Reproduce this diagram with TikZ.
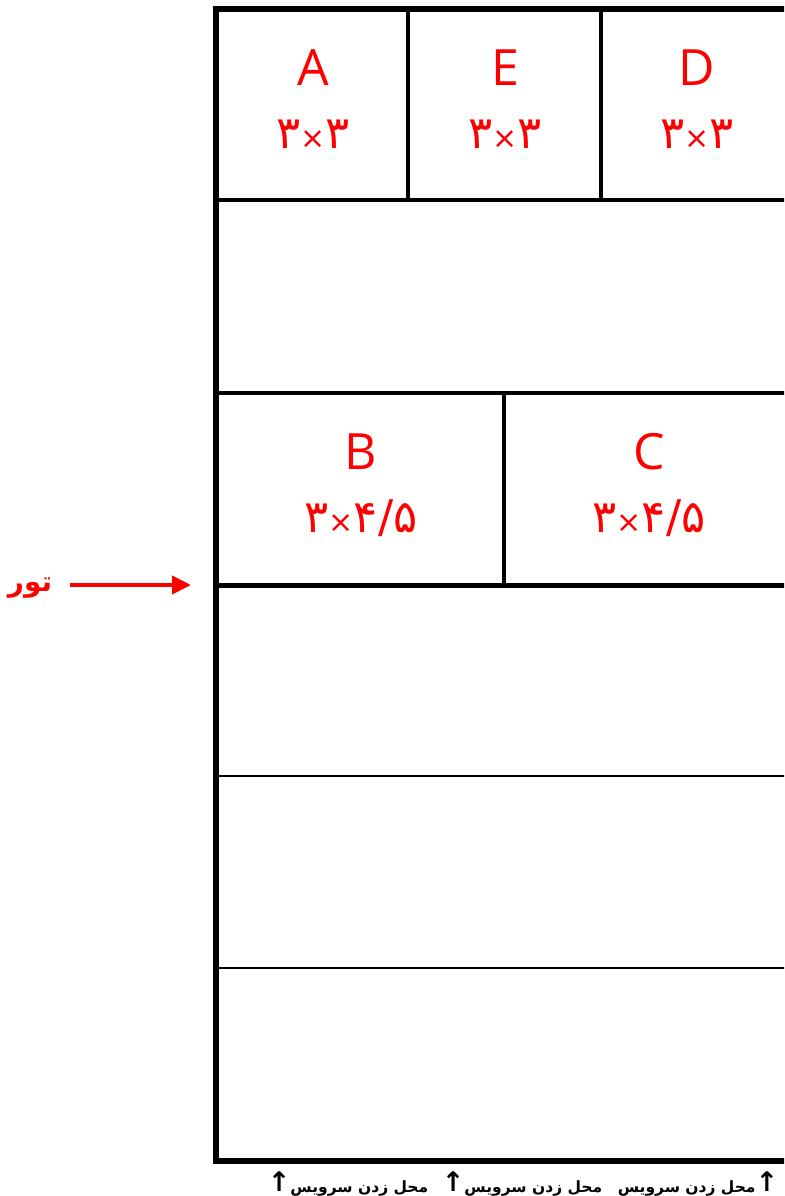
\documentclass[tikz,border=0pt]{standalone}
\usepackage{fontspec}
\setmainfont{Open Sans}
\newfontfamily\arabicfont[Script=Arabic]{DejaVu Sans}
\newfontfamily\digitfont{DejaVu Sans}
\TeXXeTstate=1
\usetikzlibrary{arrows.meta}
\newcommand{\tms}{{\fontsize{30}{30}\selectfont ×}}
\newcommand{\uparr}{\raisebox{1pt}{\digitfont\fontsize{27}{27}\selectfont ↑}}
\begin{document}
\begin{tikzpicture}[x=1pt,y=-1pt,
  thickwall/.style={line width=5.5pt,line join=miter},
  divider/.style={line width=4pt},
  midwall/.style={line width=5pt},
  thinline/.style={line width=2.5pt},
  letter/.style={text=red,font=\fontsize{50}{50}\selectfont,inner sep=0pt},
  dims/.style={text=red,font=\digitfont\fontsize{45}{45}\selectfont,inner sep=0pt},
  note/.style={font=\arabicfont\bfseries\fontsize{15.5}{15.5}\selectfont,inner sep=0pt},
  redarrow/.style={draw=red,line width=4pt,-{Triangle[length=19pt,width=18pt]}}
]
\useasboundingbox (0,0) rectangle (784,1196);
\clip (0,0) rectangle (784,1196);
% outer frame
\draw[thickwall] (792,9) -- (216,9) -- (216,1161) -- (792,1161);
% horizontal lines
\draw[divider] (216,200) -- (792,200);
\draw[divider] (216,393) -- (792,393);
\draw[midwall] (216,585) -- (792,585);
\draw[thinline] (216,776) -- (792,776);
\draw[thinline] (216,968) -- (792,968);
% vertical dividers
\draw[divider] (408,9) -- (408,200);
\draw[divider] (601,9) -- (601,200);
\draw[divider] (504,393) -- (504,585);
% labels
\node[letter] (A) at (313,68) {A};
\node[letter] (E) at (505,68) {E};
\node[letter] (D) at (697,68) {D};
\node[dims] (Ad) at (313,134) {۳\tms۳};
\node[dims] (Ed) at (505,134) {۳\tms۳};
\node[dims] (Dd) at (697,134) {۳\tms۳};
\node[letter] (B) at (361,452) {B};
\node[letter] (C) at (649,452) {C};
\node[dims] (Bd) at (361,518) {۳\tms۴/۵};
\node[dims] (Cd) at (649,518) {۳\tms۴/۵};
% net label
\node[text=red,font=\arabicfont\bfseries\fontsize{28}{28}\selectfont,inner sep=0pt] (tor) at (30,588) {\beginR تور\endR};
\coordinate (netstart) at (70,585);
\coordinate (wall) at (191,585);
\draw[redarrow] (netstart) -- (wall);
% service notes
\node[note] (s1) at (348,1184) {\uparr\beginR محل زدن سرویس\endR};
\node[note] (s2) at (522,1184) {\uparr\beginR محل  زدن سرویس\endR};
\node[note] (s3) at (698,1184) {\beginR محل زدن سرویس\endR\uparr};
\end{tikzpicture}
\end{document}
